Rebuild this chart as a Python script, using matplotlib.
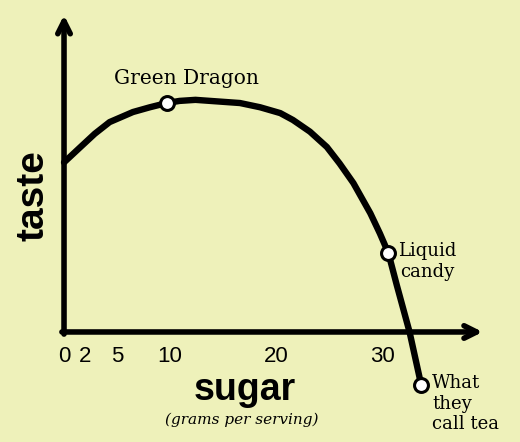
import matplotlib
matplotlib.use('Agg')

import numpy as np
from matplotlib import pyplot as plt

# curve (sugar in g/serving, taste in arbitrary units)
sugar = [0.0, 1.5, 2.9, 4.3, 6.5, 8.1, 9.7, 10.9, 12.4, 13.8, 16.6, 18.5, 20.4,
         21.6, 23.2, 24.8, 26.0, 27.3, 28.9, 29.8, 30.6, 31.4, 32.6, 33.7]
taste = [16.0, 17.4, 18.7, 19.8, 20.75, 21.2, 21.6, 21.8, 21.9, 21.8, 21.6, 21.2, 20.65,
         20.0, 18.9, 17.45, 15.9, 14.05, 11.2, 9.3, 7.45, 4.4, 0.0, -5.0]

# labelled points
point_names = ['Green Dragon', 'Liquid\ncandy', 'What\nthey\ncall tea']
point_sugar = [9.7, 30.6, 33.7]
point_taste = [21.6, 7.45, -5.0]

tick_values = [0, 2, 5, 10, 20, 30]
tick_labels = ['0', '2', '5', '10', '20', '30']

bg = '#EEF1BA'
serif = ['DejaVu Serif']
sans = ['Liberation Sans', 'DejaVu Sans']

fig = plt.figure(figsize=(5.2, 4.42), dpi=100, facecolor=bg)
ax = fig.add_axes([0, 0, 1, 1], facecolor=bg)
ax.set_xlim(-6.04, 43.02)
ax.set_ylim(-10.38, 31.32)

# axes drawn as thick arrows
head = '->,head_length=0.9,head_width=0.45'
ax.annotate('', xy=(39.5, 0), xytext=(-0.2, 0),
            arrowprops=dict(arrowstyle=head, lw=4.0, color='black', shrinkA=0, shrinkB=0))
ax.annotate('', xy=(0, 29.9), xytext=(0, -0.2),
            arrowprops=dict(arrowstyle=head, lw=4.0, color='black', shrinkA=0, shrinkB=0))

# curve and points
ax.plot(sugar, taste, color='black', lw=4.6, solid_capstyle='round',
        solid_joinstyle='round', zorder=3)
ax.plot(point_sugar, point_taste, 'o', ms=10, mfc='white', mec='black', mew=2.2, zorder=4)

# tick labels through the axis, spine moved to y=0
for s in ['top', 'right', 'left']:
    ax.spines[s].set_visible(False)
ax.spines['bottom'].set_position(('data', 0))
ax.spines['bottom'].set_color('none')
ax.set_yticks([])
ax.set_xticks(tick_values)
ax.set_xticklabels(tick_labels, fontsize=16, family=sans)
ax.tick_params(axis='x', length=0, pad=10)

# axis titles
ax.text(-2.9, 12.9, 'taste', rotation=90, ha='center', va='center',
        fontsize=28, fontweight='bold', family=sans)
ax.text(17.1, -5.5, 'sugar', ha='center', va='center',
        fontsize=27, fontweight='bold', family=sans)
ax.text(16.8, -8.3, '(grams per serving)', ha='center', va='center',
        fontsize=11, style='italic', family=serif)

# point annotations
ax.annotate(point_names[0], xy=(point_sugar[0], point_taste[0]), xytext=(14, 18),
            textcoords='offset points', ha='center', va='center',
            fontsize=14.5, family=serif)
ax.annotate(point_names[1], xy=(point_sugar[1], point_taste[1]), xytext=(7, 8),
            textcoords='offset points', ha='left', va='top', multialignment='center',
            fontsize=13, family=serif, linespacing=1.2)
ax.annotate(point_names[2], xy=(point_sugar[2], point_taste[2]), xytext=(8, 8),
            textcoords='offset points', ha='left', va='top', multialignment='left',
            fontsize=13, family=serif, linespacing=1.2)

plt.savefig('out.png', dpi=100, facecolor=bg)
